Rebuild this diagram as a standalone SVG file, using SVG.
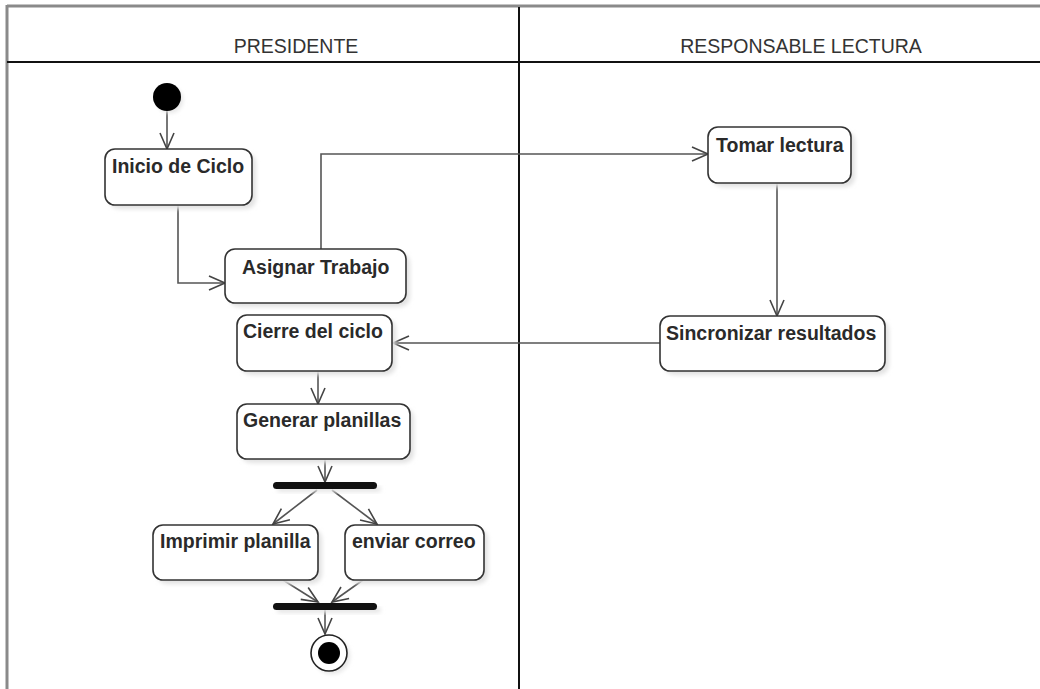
<svg xmlns="http://www.w3.org/2000/svg" width="1040" height="689" viewBox="0 0 1040 689">
  <style>
    .lane-title { font-family: "Liberation Sans", Arial, sans-serif; font-size: 19.5px; fill: #333; text-anchor: middle; }
    .act rect.box { fill: #ffffff; stroke: #333333; stroke-width: 1.6; }
    .act rect.shadow { fill: #e2e2e2; filter: url(#soft); }
    .act text { font-family: "Liberation Sans", Arial, sans-serif; font-size: 19.5px; font-weight: bold; fill: #2a2a2a; }
    .flow { fill: none; stroke: #555555; stroke-width: 1.6; marker-end: url(#open); }
    .bar { fill: #111111; }
  </style>
  <defs>
    <marker id="open" viewBox="0 0 20 20" refX="18" refY="10" markerWidth="20" markerHeight="20" markerUnits="userSpaceOnUse" orient="auto">
      <path d="M2,3 L18,10 L2,17" fill="none" stroke="#444" stroke-width="1.6"/>
    </marker>
    <filter id="soft" x="-10%" y="-10%" width="130%" height="140%">
      <feGaussianBlur stdDeviation="2"/>
    </filter>
  </defs>

  <rect width="1040" height="689" fill="#ffffff"/>

  <!-- swimlane frame -->
  <g id="lanes">
    <line x1="7" y1="6" x2="1040" y2="6" stroke="#8a8a8a" stroke-width="3"/>
    <line x1="7" y1="5" x2="7" y2="689" stroke="#8a8a8a" stroke-width="3"/>
    <line x1="7" y1="62" x2="1040" y2="62" stroke="#111" stroke-width="2"/>
    <line x1="519" y1="7" x2="519" y2="689" stroke="#111" stroke-width="2"/>
    <text class="lane-title" x="296" y="53">PRESIDENTE</text>
    <text class="lane-title" x="801" y="53">RESPONSABLE LECTURA</text>
  </g>

  <!-- connectors -->
  <g id="connectors">
    <path class="flow" d="M167,111 V149"/>
    <path class="flow" d="M178,205 V283 H225"/>
    <path class="flow" d="M321,249 V154 H708"/>
    <path class="flow" d="M777,183 V316"/>
    <path class="flow" d="M660,343 H393"/>
    <path class="flow" d="M318,371 V404"/>
    <path class="flow" d="M325,459 V482"/>
    <path class="flow" d="M317,490 L273,524"/>
    <path class="flow" d="M332,490 L377,524"/>
    <path class="flow" d="M283,580 L318,602"/>
    <path class="flow" d="M363,580 L332,602"/>
    <path class="flow" d="M325,610 V634"/>
  </g>

  <g id="start">
    <circle cx="170" cy="100" r="13" fill="#e6e6e6" filter="url(#soft)"/>
    <circle cx="167" cy="97" r="14" fill="#000"/>
  </g>

  <g id="inicio" class="act">
    <rect class="shadow" x="109" y="153" width="147" height="56" rx="10"/>
    <rect class="box" x="105" y="149" width="147" height="56" rx="10"/>
    <text x="112" y="173">Inicio de Ciclo</text>
  </g>

  <g id="asignar" class="act">
    <rect class="shadow" x="229" y="253" width="181" height="54" rx="10"/>
    <rect class="box" x="225" y="249" width="181" height="54" rx="10"/>
    <text x="242" y="274">Asignar Trabajo</text>
  </g>

  <g id="tomar" class="act">
    <rect class="shadow" x="712" y="131" width="143" height="56" rx="10"/>
    <rect class="box" x="708" y="127" width="143" height="56" rx="10"/>
    <text x="716" y="152">Tomar lectura</text>
  </g>

  <g id="sincronizar" class="act">
    <rect class="shadow" x="664" y="320" width="225" height="55" rx="10"/>
    <rect class="box" x="660" y="316" width="225" height="55" rx="10"/>
    <text x="666" y="340">Sincronizar resultados</text>
  </g>

  <g id="cierre" class="act">
    <rect class="shadow" x="241" y="319" width="155" height="56" rx="10"/>
    <rect class="box" x="237" y="315" width="155" height="56" rx="10"/>
    <text x="243" y="338">Cierre del ciclo</text>
  </g>

  <g id="generar" class="act">
    <rect class="shadow" x="241" y="408" width="173" height="55" rx="10"/>
    <rect class="box" x="237" y="404" width="173" height="55" rx="10"/>
    <text x="243" y="427">Generar planillas</text>
  </g>

  <g id="fork">
    <rect x="277" y="486" width="104" height="6" rx="3" fill="#e6e6e6" filter="url(#soft)"/>
    <rect class="bar" x="273" y="482" width="104" height="7" rx="3.5"/>
  </g>

  <g id="imprimir" class="act">
    <rect class="shadow" x="157" y="529" width="165" height="55" rx="10"/>
    <rect class="box" x="153" y="525" width="165" height="55" rx="10"/>
    <text x="160" y="548">Imprimir planilla</text>
  </g>

  <g id="enviar" class="act">
    <rect class="shadow" x="349" y="529" width="139" height="55" rx="10"/>
    <rect class="box" x="345" y="525" width="139" height="55" rx="10"/>
    <text x="352" y="548">enviar correo</text>
  </g>

  <g id="join">
    <rect x="277" y="607" width="104" height="6" rx="3" fill="#e6e6e6" filter="url(#soft)"/>
    <rect class="bar" x="273" y="603" width="104" height="7" rx="3.5"/>
  </g>

  <g id="end">
    <circle cx="332" cy="656" r="18" fill="#e6e6e6" filter="url(#soft)"/>
    <circle cx="329" cy="653" r="18" fill="#fff" stroke="#222" stroke-width="1.6"/>
    <circle cx="329" cy="653" r="11" fill="#000"/>
  </g>
</svg>
